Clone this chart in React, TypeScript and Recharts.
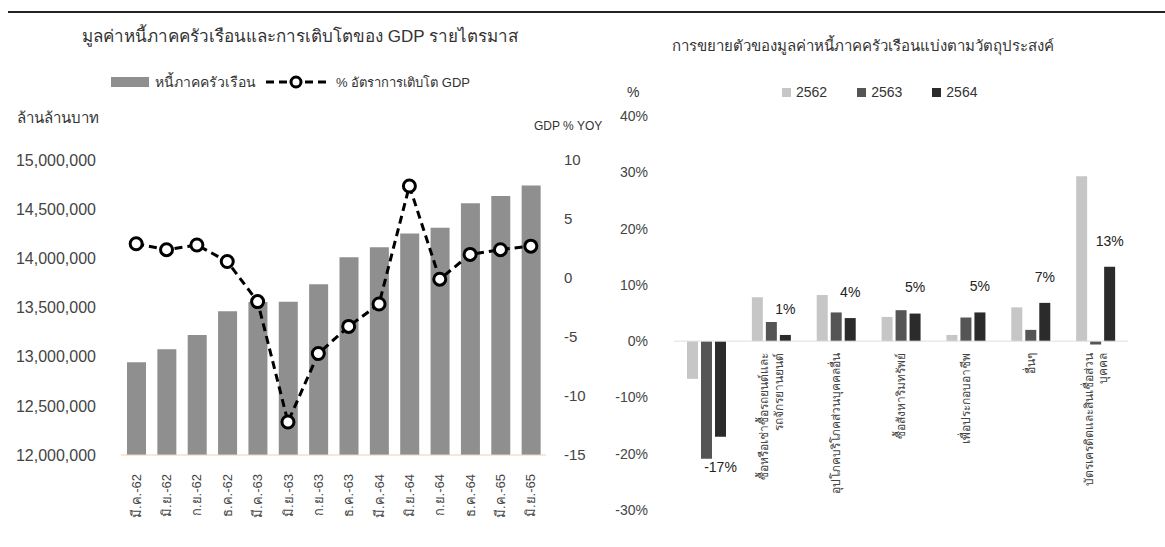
import React from 'react';
import { ComposedChart, BarChart, Bar, Line, XAxis, YAxis, ReferenceLine, LabelList } from 'recharts';

// left chart: household debt (bars) + GDP growth (line), quarterly
const quarters = ['มี.ค.-62', 'มิ.ย.-62', 'ก.ย.-62', 'ธ.ค.-62', 'มี.ค.-63', 'มิ.ย.-63', 'ก.ย.-63', 'ธ.ค.-63', 'มี.ค.-64', 'มิ.ย.-64', 'ก.ย.-64', 'ธ.ค.-64', 'มี.ค.-65', 'มิ.ย.-65'];
const householdDebt = [12944000, 13076000, 13221000, 13462000, 13555000, 13558000, 13736000, 14010000, 14113000, 14253000, 14310000, 14560000, 14635000, 14740000];
const gdpYoy = [2.9, 2.4, 2.8, 1.4, -2.0, -12.2, -6.4, -4.1, -2.2, 7.8, -0.1, 2.0, 2.4, 2.7];
const debtTicks = [12000000, 12500000, 13000000, 13500000, 14000000, 14500000, 15000000];
const gdpTicks = [-15, -10, -5, 0, 5, 10];

// right chart: growth of household debt by purpose
const purposes = ['', 'ซื้อหรือเช่าซื้อรถยนต์และ\nรถจักรยานยนต์', 'อุปโภคบริโภคส่วนบุคคลอื่น', 'ซื้อสังหาริมทรัพย์', 'เพื่อประกอบอาชีพ', 'อื่นๆ', 'บัตรเครดิตและสินเชื่อส่วน\nบุคคล'];
const growth2562 = [-6.7, 7.8, 8.2, 4.3, 1.1, 6.0, 29.3];
const growth2563 = [-20.9, 3.4, 5.1, 5.5, 4.2, 2.0, -0.6];
const growth2564 = [-17.0, 1.1, 4.1, 4.9, 5.1, 6.8, 13.2];
const pctTicks = [-30, -20, -10, 0, 10, 20, 30, 40];

const leftData = quarters.map((q, i) => ({ q, debt: householdDebt[i], gdp: gdpYoy[i] }));
const rightData = purposes.map((p, i) => ({ p, y62: growth2562[i], y63: growth2563[i], y64: growth2564[i] }));

const FONT = '"Liberation Sans", Arial, "Noto Sans", sans-serif';
const R_TOP = 116;
const R_H = 394;
const ZERO_Y = R_TOP + (R_H * 40) / 70;

const fmtNum = (v: number) => v.toLocaleString('en-US');

const QuarterTick = (props: any) => {
  const { x, y, payload } = props;
  return (
    <text transform={`translate(${x}, ${y + 17}) rotate(-90)`} textAnchor="end" dy="0.35em" fontSize={13} fill="#444" fontFamily={FONT}>
      {payload.value}
    </text>
  );
};

const PurposeTick = (props: any) => {
  const { x, payload } = props;
  const lines = String(payload.value).split('\n').filter((s) => s);
  return (
    <text transform={`translate(${x}, ${ZERO_Y + 12}) rotate(-90)`} textAnchor="end" fontSize={12} fill="#444" fontFamily={FONT}>
      {lines.map((l, i) => (
        <tspan key={i} x={0} dy={i === 0 ? `${0.35 - ((lines.length - 1) * 1.2) / 2}em` : '1.2em'}>
          {l}
        </tspan>
      ))}
    </text>
  );
};

const GrowthLabel = (props: any) => {
  const { x, y, width, height, value } = props;
  const top = Math.min(y, y + height);
  const bottom = Math.max(y, y + height);
  const cy = value < 0 ? bottom + 30 : top - 26;
  return (
    <text x={x + width / 2} y={cy} textAnchor="middle" dy="0.35em" fontSize={14} fill="#222" fontFamily={FONT}>
      {`${Math.round(value)}%`}
    </text>
  );
};

const txt = (left: number, top: number, size: number, s: string, extra: React.CSSProperties = {}) => (
  <div style={{ position: 'absolute', left, top, fontSize: size, color: '#333', whiteSpace: 'nowrap', lineHeight: 1, ...extra }}>{s}</div>
);

export default function App() {
  return (
    <div style={{ position: 'relative', width: 1165, height: 547, background: '#fff', fontFamily: FONT, overflow: 'hidden' }}>
      <style>{'body{margin:0}'}</style>
      <div style={{ position: 'absolute', left: 8, top: 11, width: 1157, height: 2, background: '#222' }} />

      {/* left chart texts */}
      <div style={{ position: 'absolute', left: 0, width: 600, top: 22, textAlign: 'center', fontSize: 17, color: '#333' }}>
        มูลค่าหนี้ภาคครัวเรือนและการเติบโตของ GDP รายไตรมาส
      </div>
      <div style={{ position: 'absolute', left: 111, top: 71, display: 'flex', alignItems: 'center', fontSize: 14, color: '#333' }}>
        <div style={{ width: 38, height: 10, background: '#8f8f8f', marginRight: 6 }} />
        <span>หนี้ภาคครัวเรือน</span>
        <svg width={64} height={16} style={{ marginLeft: 8, marginRight: 8 }}>
          <line x1={2} y1={8} x2={62} y2={8} stroke="#000" strokeWidth={3} strokeDasharray="8 5" />
          <circle cx={32} cy={8} r={5} fill="#fff" stroke="#000" strokeWidth={3} />
        </svg>
        <span style={{ fontSize: 13 }}>% อัตราการเติบโต GDP</span>
      </div>
      {txt(17, 110, 15, 'ล้านล้านบาท')}
      {txt(534, 120, 12, 'GDP % YOY')}

      <div style={{ position: 'absolute', left: 0, top: 0 }}>
        <ComposedChart width={600} height={547} data={leftData} margin={{ top: 160, right: 0, bottom: 32, left: 0 }} barCategoryGap="37%">
          <XAxis dataKey="q" xAxisId="x" height={60} interval={0} tickSize={0} axisLine={{ stroke: '#f2cfb0' }} tickLine={false} tick={<QuarterTick />} />
          <YAxis
            yAxisId="left"
            width={121}
            domain={[12000000, 15000000]}
            ticks={debtTicks}
            tickFormatter={fmtNum}
            axisLine={false}
            tickLine={false}
            tickSize={0}
            tickMargin={25}
            tick={{ fontSize: 16, fill: '#444', fontFamily: FONT }}
          />
          <YAxis
            yAxisId="right"
            orientation="right"
            width={54}
            domain={[-15, 10]}
            ticks={gdpTicks}
            axisLine={false}
            tickLine={false}
            tickSize={0}
            tickMargin={18}
            tick={{ fontSize: 15, fill: '#444', fontFamily: FONT, textAnchor: 'start' }}
          />
          <Bar xAxisId="x" yAxisId="left" dataKey="debt" fill="#8f8f8f" barSize={19} isAnimationActive={false} />
          <Line
            xAxisId="x"
            yAxisId="right"
            dataKey="gdp"
            type="linear"
            stroke="#000"
            strokeWidth={3}
            strokeDasharray="8 5"
            dot={{ r: 6, fill: '#fff', stroke: '#000', strokeWidth: 3, strokeDasharray: '' }}
            isAnimationActive={false}
          />
        </ComposedChart>
      </div>

      {/* right chart texts */}
      <div style={{ position: 'absolute', left: 600, width: 565, top: 34, textAlign: 'center', fontSize: 15, color: '#333', paddingRight: 40, boxSizing: 'border-box' }}>
        การขยายตัวของมูลค่าหนี้ภาคครัวเรือนแบ่งตามวัตถุประสงค์
      </div>
      {txt(627, 85, 14, '%')}
      <div style={{ position: 'absolute', left: 782, top: 84, display: 'flex', alignItems: 'center', fontSize: 14, color: '#333' }}>
        <div style={{ width: 9, height: 9, background: '#c6c6c6', marginRight: 5 }} />
        <span style={{ marginRight: 30 }}>2562</span>
        <div style={{ width: 9, height: 9, background: '#555', marginRight: 5 }} />
        <span style={{ marginRight: 30 }}>2563</span>
        <div style={{ width: 9, height: 9, background: '#2b2b2b', marginRight: 5 }} />
        <span>2564</span>
      </div>

      <div style={{ position: 'absolute', left: 600, top: 0 }}>
        <BarChart width={565} height={547} data={rightData} margin={{ top: R_TOP, right: 37, bottom: 7, left: 0 }} barGap={3}>
          <XAxis dataKey="p" height={30} interval={0} axisLine={false} tickLine={false} tick={<PurposeTick />} />
          <YAxis
            width={74}
            domain={[-30, 40]}
            ticks={pctTicks}
            tickFormatter={(v: number) => `${v}%`}
            axisLine={false}
            tickLine={false}
            tickSize={0}
            tickMargin={26}
            tick={{ fontSize: 14, fill: '#444', fontFamily: FONT }}
          />
          <ReferenceLine y={0} stroke="#dedede" />
          <Bar dataKey="y62" fill="#c6c6c6" barSize={11} isAnimationActive={false} />
          <Bar dataKey="y63" fill="#555" barSize={11} isAnimationActive={false} />
          <Bar dataKey="y64" fill="#2b2b2b" barSize={11} isAnimationActive={false}>
            <LabelList dataKey="y64" content={<GrowthLabel />} />
          </Bar>
        </BarChart>
      </div>
    </div>
  );
}
